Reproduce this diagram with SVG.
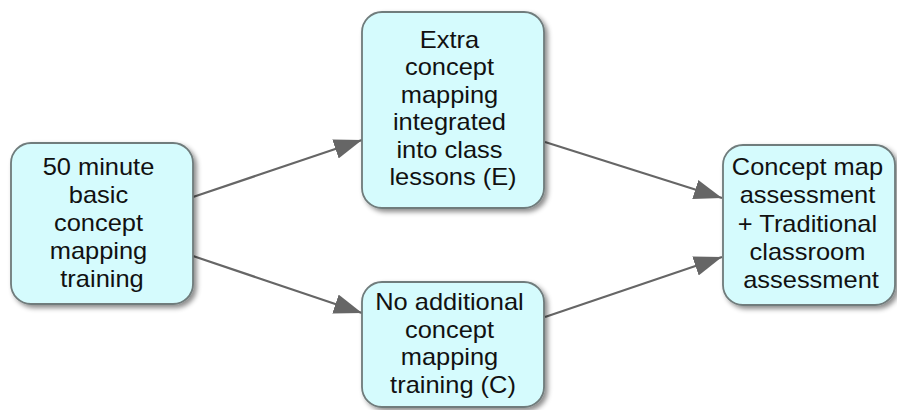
<svg xmlns="http://www.w3.org/2000/svg" width="897" height="410" viewBox="0 0 897 410">
  <defs>
    <filter id="shadow" x="-10%" y="-10%" width="130%" height="130%">
      <feDropShadow dx="3" dy="3" stdDeviation="2.5" flood-color="#000" flood-opacity="0.45"/>
    </filter>
    <marker id="arrow" markerUnits="userSpaceOnUse" markerWidth="28" markerHeight="20" refX="28" refY="10" orient="auto">
      <path d="M0,0 L28,10 L0,20 Z" fill="#666"/>
    </marker>
    <style>
      .box { fill: #d5fbfd; stroke: #6f7b7b; stroke-width: 1.8; filter: url(#shadow); }
      .lbl { font-family: "Liberation Sans", Arial, Helvetica, sans-serif; font-size: 24px; fill: #111; text-anchor: middle; }
      .edge { stroke: #666; stroke-width: 2.2; fill: none; marker-end: url(#arrow); }
    </style>
  </defs>
  <rect width="897" height="410" fill="#fff"/>

  <g id="connectors">
    <line class="edge" x1="193" y1="197" x2="362" y2="140"/>
    <line class="edge" x1="193" y1="256" x2="362" y2="313"/>
    <line class="edge" x1="545" y1="142" x2="722" y2="198"/>
    <line class="edge" x1="545" y1="317" x2="722" y2="257"/>
  </g>

  <g id="node-training">
    <rect class="box" x="11" y="143" width="182" height="161" rx="20" ry="20"/>
    <text class="lbl" transform="translate(102 0) scale(1.06 1)">
      <tspan x="0" y="175">50 minute</tspan>
      <tspan x="0" y="203">basic</tspan>
      <tspan x="0" y="231">concept</tspan>
      <tspan x="0" y="259">mapping</tspan>
      <tspan x="0" y="287">training</tspan>
    </text>
  </g>

  <g id="node-extra">
    <rect class="box" x="362" y="12" width="182" height="196" rx="20" ry="20"/>
    <text class="lbl" transform="translate(453 0) scale(1.06 1)">
      <tspan x="0" y="48">Extra</tspan>
      <tspan x="0" y="75.5">concept</tspan>
      <tspan x="0" y="103">mapping</tspan>
      <tspan x="0" y="130.5">integrated</tspan>
      <tspan x="0" y="158">into class</tspan>
      <tspan x="0" y="185.5">lessons (E)</tspan>
    </text>
  </g>

  <g id="node-none">
    <rect class="box" x="362" y="282" width="182" height="125" rx="20" ry="20"/>
    <text class="lbl" transform="translate(453 0) scale(1.06 1)">
      <tspan x="0" y="310">No additional</tspan>
      <tspan x="0" y="338">concept</tspan>
      <tspan x="0" y="365.5">mapping</tspan>
      <tspan x="0" y="393">training (C)</tspan>
    </text>
  </g>

  <g id="node-assessment">
    <rect class="box" x="723" y="145" width="172" height="160" rx="20" ry="20"/>
    <text class="lbl" transform="translate(811 0) scale(1.06 1)">
      <tspan x="0" y="175">Concept map</tspan>
      <tspan x="0" y="203.5">assessment</tspan>
      <tspan x="0" y="232">+ Traditional</tspan>
      <tspan x="0" y="260">classroom</tspan>
      <tspan x="0" y="288">assessment</tspan>
    </text>
  </g>
</svg>
